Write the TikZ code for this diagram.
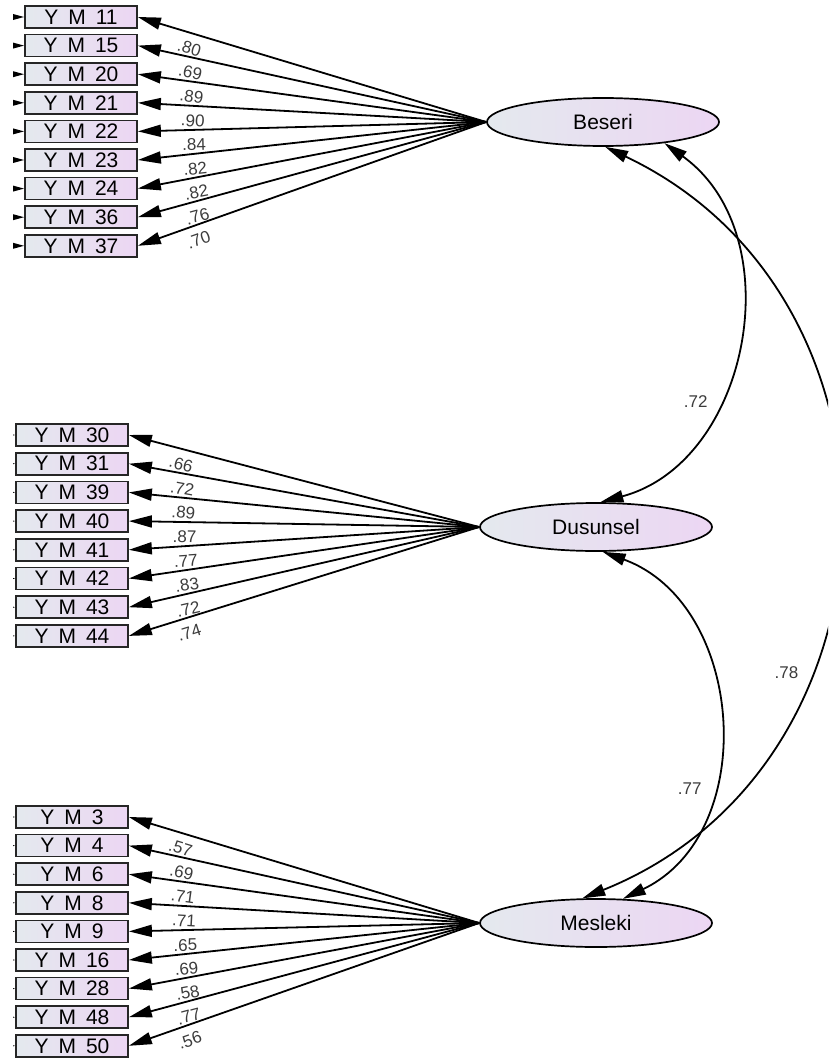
\documentclass[tikz,border=0pt]{standalone}
\usepackage{fontspec}
\setmainfont{Liberation Sans}
\usetikzlibrary{shapes.geometric,arrows.meta}
\definecolor{lc}{RGB}{228,233,238}
\definecolor{rc}{RGB}{236,214,243}
\definecolor{labgray}{RGB}{60,60,60}
\newcommand\ymtext[1]{Y\hspace{10pt}M\hspace{10pt}#1}
\tikzset{
  obs/.style={draw=black!85, line width=1.7pt, rectangle, minimum width=112pt, minimum height=22pt, inner sep=0pt, left color=lc, right color=rc, font=\fontsize{21}{21}\selectfont},
  lat/.style={draw=black, line width=1.7pt, ellipse, minimum width=232pt, minimum height=48pt, inner sep=0pt, left color=lc, right color=rc, font=\fontsize{21}{21}\selectfont},
  load/.style={line width=1.8pt, arrows={Triangle[length=23pt,width=12pt]-}},
  stubarrow/.style={line width=1.8pt, arrows={-Triangle[length=23pt,width=12pt]}},
  cov/.style={line width=1.8pt, arrows={Triangle[length=23pt,width=12pt]-Triangle[length=23pt,width=12pt]}},
  lab/.style={pos=0.16, sloped, below=7pt, inner sep=1pt, text=labgray, font=\fontsize{17}{17}\selectfont},
  clab/.style={left=8pt, inner sep=1pt, text=labgray, font=\fontsize{17}{17}\selectfont},
}
\begin{document}
\begin{tikzpicture}[x=1pt,y=-1pt]
\useasboundingbox (0,0) rectangle (828,1059);
\clip (0,0) rectangle (828,1059);

% latent variables
\node[lat] (bes) at (603,122) {Beseri};
\node[lat] (dus) at (596,527) {Dusunsel};
\node[lat] (mes) at (596,923) {Mesleki};

% Beseri indicators
\foreach \n/\l [count=\i from 0] in {11/.80,15/.69,20/.89,21/.90,22/.84,23/.82,24/.82,36/.76,37/.70}{
  \node[obs] (t\i) at (81,17+28.6*\i) {\ymtext{\n}};
  \draw[load] (t\i.east) -- node[lab]{\l} (bes.west);
  \coordinate (te\i) at (0,17+28.6*\i);
  \begin{scope}
    \clip (13,0) rectangle (40,1059);
    \draw[stubarrow] (te\i) -- (t\i.west);
  \end{scope}
}

% Dusunsel indicators
\foreach \n/\l [count=\i from 0] in {30/.66,31/.72,39/.89,40/.87,41/.77,42/.83,43/.72,44/.74}{
  \node[obs] (m\i) at (72,435+28.7*\i) {\ymtext{\n}};
  \draw[load] (m\i.east) -- node[lab]{\l} (dus.west);
  \coordinate (me\i) at (0,435+28.7*\i);
  \begin{scope}
    \clip (13,0) rectangle (40,1059);
    \draw[stubarrow] (me\i) -- (m\i.west);
  \end{scope}
}

% Mesleki indicators
\foreach \n/\l [count=\i from 0] in {3/.57,4/.69,6/.71,8/.71,9/.65,16/.69,28/.58,48/.77,50/.56}{
  \node[obs] (b\i) at (72,817+28.6*\i) {\ymtext{\n}};
  \draw[load] (b\i.east) -- node[lab]{\l} (mes.west);
  \coordinate (be\i) at (0,817+28.6*\i);
  \begin{scope}
    \clip (13,0) rectangle (40,1059);
    \draw[stubarrow] (be\i) -- (b\i.west);
  \end{scope}
}

% covariances
\draw[cov] (bes.-19) .. controls +(128,92) and +(150,-40) .. node[pos=0.64,clab]{.72} (dus.80);
\draw[cov] (dus.-75) .. controls +(143,52) and +(138,-66) .. node[pos=0.66,clab]{.77} (mes.42);
\draw[cov] (bes.-85) .. controls +(320.6,152.3) and +(329.4,-132.4) .. node[pos=0.66,clab]{.78} (mes.119);
\end{tikzpicture}
\end{document}
